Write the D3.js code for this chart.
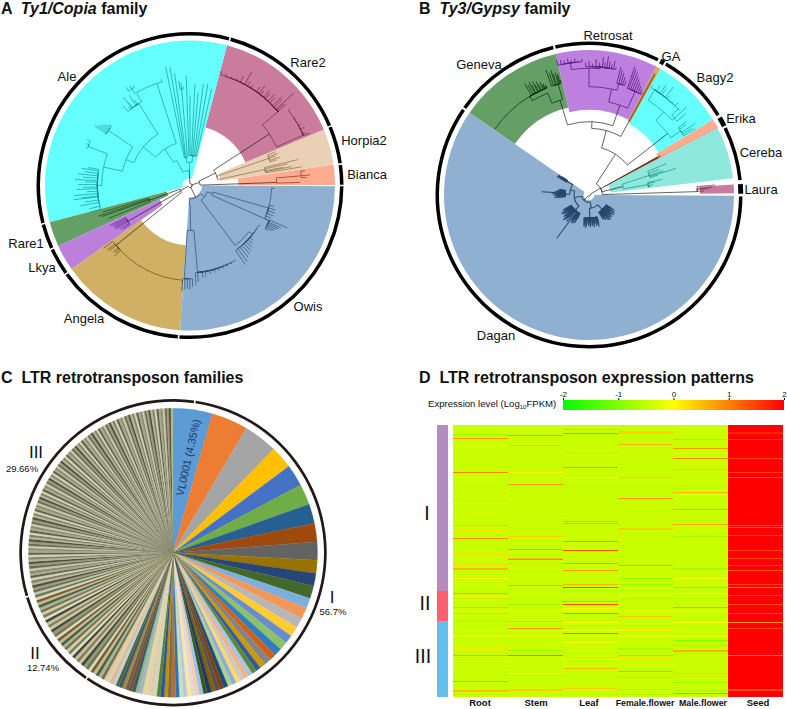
<!DOCTYPE html>
<html><head><meta charset="utf-8">
<script src="https://cdn.jsdelivr.net/npm/d3@7"></script>
<style>html,body{margin:0;background:#fff}svg{display:block}text{font-family:"Liberation Sans",Arial,sans-serif;fill:#111}</style>
</head><body><div id="c"></div>
<script>
// ---------- DATA ----------
// Panel A families: name, start angle, end angle (deg clockwise from north), inner radius (tree units)
const familiesA = ["Bianca","Horpia2","Rare2","Ale","Rare1","Lkya","Angela","Owis"];
const startsA = [81.7,67.3,14.8,-104.7,245.3,234.8,183.9,90.3];
const endsA   = [89.8,81.7,67.3,14.8,255.3,245.3,234.8,183.9];
const innerA  = [145,92,180,22,72,100,180,36];
const ringBreaksA = [15.2,67.1,81.9,90,184.3,234.5,245.4,255.4,375.2];
// Panel B families
const familiesB = ["Laura","Cereba","Brown","Erika","Bagy2","GA","Retrosat","Geneva","Dagan"];
const startsB = [85.8,62.5,60.6,58.6,29.4,27.7,-13.3,-55.5,90.3];
const endsB   = [89.3,83.4,62.4,62.4,58.6,29.4,27.7,-13.3,304.5];
const innerB  = [333,65,50,236,245,250,255,270,16];
const ringSegmentsB = [[90.6,304.2],[305,346.4],[347.2,387],[388,389.6],[390.4,418.3],[419.4,423],[423.8,444.4],[445.9,449.5]];
// Panel C
const valuesI = [4.35,4.03,3.75,2.5,2.39,2.3,2.14,2.05,2.0,1.45,1.39,1.42,1.14,1.22,1.11,1.11,.92,.92,.86,.72,.78,.64,.53,
 .55,.52,.5,.52,.48,.5,.47,.5,.46,.48,.45,.47,.44,.46,.45,.43,.45,.42,.44,.41,.43,.42,.4,.42,.41,.39,.41,.4,.38,.4,.39,.37,.39,.38,.37,.38,.36,.37,.36,.35];
const valuesII = [.36,.34,.35,.33,.34,.33,.32,.33,.32,.34,.31,.33,.32,.31,.32,.3,.32,.31,.3,.31,.32,.3,.31,.3,.32,.3,.31,.29,.31,.3,.29,.31,.3,.29,.3,.31,.29,.3,.29,.3];
const valuesIII = [.28,.27,.28,.26,.27,.26,.27,.25,.26,.27,.25,.26,.25,.26,.24,.25,.26,.24,.25,.24,.25,.26,.24,.25,.24,
 .25,.24,.25,.23,.24,.25,.23,.24,.25,.23,.24,.23,.24,.25,.23,.24,.23,.24,.22,.23,.24,.23,.24,.22,.23,
 .24,.23,.22,.24,.23,.22,.23,.24,.22,.23,.22,.24,.23,.22,.23,.22,.24,.22,.23,.22,.23,.24,.22,.23,.22,
 .23,.22,.24,.23,.22,.23,.22,.23,.24,.22,.23,.22,.23,.22,.24,.22,.23,.22,.23,.22,.23,.24,.22,.23,.22,
 .23,.22,.23,.22,.24,.22,.23,.22,.23,.22,.23,.22,.24,.22,.23,.22,.23,.22,.23,.22,.23,.22,.23,.22,.23];
const paletteI = ["#5b9bd5","#ed7d31","#a5a5a5","#ffc000","#4472c4","#70ad47","#255e91","#9e480e","#636363","#997300","#264478","#43682b","#7cafdd","#f1975a","#b7b7b7","#ffcd33","#698ed0","#8cc168","#327dc2","#d26012","#848484","#cc9a00","#335aa1","#5a8a39","#a3c4e3","#f4b183","#c9c9c9","#ffd966","#8faadc","#a9d18e","#1f4e79","#843c0c","#525252","#7f6000","#203864","#385723","#9dc3e6","#f8cbad","#dbdbdb","#ffe699","#b4c7e7","#c5e0b4","#2e75b6","#b0703a","#7b6b4b","#bf9000","#2f5597","#548235","#c8d8c0","#e8c8a0","#d9d2b8","#e8d890","#a0b8c8","#90b890","#3a5a60","#7a5038","#6a6048","#a08840","#405868","#4a6840","#c0d0d8","#e0b890","#d8d0b0"];
const paletteII = ["#d9c9a0","#7a6a45","#9ab89a","#4e5a3a","#c9b58e","#6e5c3a","#e0d5b0","#5a7a5a","#a88f68","#35503f","#d0c4a0","#8a7a50","#b8c4a8","#4a4030","#e5dcc0","#6a8060"];
const paletteIII = ["#c8c8a8","#6a6a50","#9a9a80","#4e4e3a","#b4b496","#7e7e62","#d2d2b6","#5c5c46","#a6a68a","#8a8a6e"];
const ringBreaksC = [8.2,214.5,253.2,368.2];
// Panel D
const tissues = ["Root","Stem","Leaf","Female.flower","Male.flower","Seed"];
const rowCount = 272;
const baseLevels = [-0.42,-0.42,-0.42,-0.42,-0.42,2];
const hotRoot = [[9,-.7],[13,.8],[20,-.15],[47,1],[52,0],[70,.2],[78,-.1],[100,.4],[105,.2],[113,.9],[129,.3],[139,.3],[143,.6],[144,.5],[153,-.1],[168,.7],[171,.1],[182,-.9],[188,-.8],[196,-.65],[223,.2],[230,.7],[236,-.1],[256,.7],[265,.5],[266,.5]];
const hotStem = [[10,.8],[20,-.8],[47,.1],[59,.8],[111,.4],[124,.8],[133,.5],[134,.9],[138,-.7],[160,.7],[179,-.8],[196,-.8],[203,.8],[225,-.8],[230,1.1],[248,-.1],[264,.4],[265,.4]];
const hotLeaf = [[4,.4],[8,.9],[14,.2],[30,.1],[42,.8],[52,0],[96,.6],[98,.6],[116,.8],[125,1.4],[138,.8],[140,-.05],[145,.8],[159,.6],[162,1.3],[176,.7],[179,1.4],[183,-.05],[188,.9],[197,-.05],[204,-.2],[205,-.2],[208,1.1],[217,-.05],[234,-.05],[243,.5],[263,.4]];
const hotFemale = [[6,.35],[7,.35],[8,.35],[14,.2],[19,.6],[52,.4],[73,.8],[103,.4],[104,.4],[140,.7],[153,-.8],[159,-.8],[170,0],[174,.3],[191,.5],[205,.1],[223,-.8],[230,-1.1],[233,.2],[246,.7],[252,.4],[264,-.7]];
const hotMale = [[14,-.8],[23,.8],[28,-.05],[33,.9],[44,.4],[67,.6],[70,.1],[84,.7],[99,.7],[111,-.8],[143,-.8],[153,-.05],[162,-1.1],[168,-.05],[182,.7],[197,-.05],[215,-1],[220,-.8],[225,.6],[226,.6],[248,-.8],[257,-.8],[265,-.7],[268,.8]];
const hotSeed = [[7,1.7],[8,1.7],[14,1.5],[33,1.5],[47,1.5],[52,1.3],[100,1.3],[102,1.2],[110,1.5],[125,1.5],[133,1.5],[140,1.5],[145,1.3],[159,1.5],[162,.9],[170,1.5],[179,1.3],[188,1.5],[197,.8],[203,1.5],[230,1],[264,1.4],[265,1.4]];
const rowTones = [[34,-.3],[60,-.5],[61,-.5],[88,-.3],[120,-.5],[150,-.3],[165,-.55],[173,-.55],[185,-.3],[186,-.3],[200,-.55],[210,-.25],[211,-.25],[228,-.55],[240,-.3],[250,-.55],[258,-.3],[269,-.55]];
const legendTicks = [-2,-1,0,1,2];
// Trees: node = [radius, angle|null, ...children]; leaf = [radius, angle]
const treeBianca = [260,88,[335,85,[348,82.6],[361,85],[350,86]],[330,88.4]];
const treeHorpia = [85,76,[250,71,[277,68.5],[282,70],[272,71],[283,72.5],[270,73.5]],[230,78,[333,76.5],[300,77.5],[285,79],[310,79.5],[339,80.5]]];
const treeRare2 = [284,57,
 [345,50,[356,15.5],[352,18],[350,21],[352,24],[365,26],[387,28.5],[360,30],[356,32],[362,35.4],[375,36.9],[360,38],[373,40],[365,41],[375,42.8],[368,44],[382,46],[378,47],[417,48.4],[372,49],[380,49.8]],
 [372,66,[378,52.6],[376,57],[380,61],[385,63],[376,64.8],[382,65.5],[392,66.4]]];
const treeAle = [45,-3,
 [70,null,[85,-8,[363,-11.6],[360,-9.6],[340,-7.8],[290,-5,[315,-6],[310,-5],[298,-4]]],
          [90,5,[330,-2],[270,0],[305,2.8],[280,5],[307,7.5],[310,10],[297,12.6]]],
 [85,-28,[133,-35,
   [182,-50.5,
     [207,-68,
       [295,-56,[337,-58],[332,-57],[325,-56],[318,-55],[310,-54],[305,-53],[300,-58.5]],
       [265,-78,
         [327,-69,[338,-66],[335,-68],[332,-70]],
         [278,-90,[310,-80],[330,-81],[318,-82.5],[338,-84],[322,-85.5],[345,-87],[315,-88],[335,-89.5],[320,-91],[340,-92],[310,-93.5],[348,-95],[328,-96.5],[353,-97],[318,-99],[335,-100.5],[310,-103],[308,-105]]]],
     [290,-32,[318,-30],[327,-34],[332,-37],[312,-40],[306,-33],[310,-36.5],[300,-38]]],
   [322,-18,[330,-15],[338,-31,[352,-33],[349,-31],[345,-29.5]]]]]];
const treeOwis = [40,null,
 [60,182,[135,null,
    [280,183.5,[318,184.5],[312,183],[310,181.5],[312,180],[305,178.5]],
    [262,175,[300,176.5],[290,175],[280,172],[278,170],[272,167],[272,164],[270,161],[268,158],[268,155],[267,152],[266,149]]]],
 [55,128,
    [72,null,
      [245,106,[253,92],[260,104],[266,106],[268,108],[265,110],[262,112],[258,114]],
      [260,114,[318,113.5],[300,115],[295,116],[290,117],[285,118],[280,119],[270,120]]],
    [225,143,[238,128,[243,120],[241,123],[240,126],[242,129],[250,131],[255,133],[262,135],[268,137],[272,139],[278,141],[285,143],[290,145]]]]];
const treeAngela = [285,231,[320,234],[315,232],[310,231],[305,229],[300,228],[310,227],[296,184.5]];
const treeLkya = [215,240,[268,243.5],[262,242.5],[258,241.5],[262,240.5],[255,239.5],[248,238],[240,237]];
const treeRare1 = [130,250,[275,253],[290,251.5],[280,250.5],[262,248]];
const rootA = [6,null,
 treeAle,
 [30,72,[85,64,treeRare2,treeHorpia],treeBianca],
 treeOwis,
 [32,243,treeAngela,treeLkya,treeRare1]];
const treeDagan = [22,225,
 [40,170,
  [60,138,[78,120],[90,121],[84,122],[74,123],[72,124],[94,125],[88,126],[80,127],[76,128],[96,129],[92,130],[84,131],[80,132],[90,133],[95,134],[78,135],[74,136],[92,137],[98,138],[86,139],[82,140],[96,141],[94,142],[80,143],[76,144],[88,145],[90,146],[78,147],[72,148],[86,149],[84,150]],
  [70,178,[84,160],[92,161],[100,162],[88,163],[78,164],[96,165],[92,166],[82,167],[74,168],[90,169],[98,170],[86,171],[82,172],[94,173],[90,174],[80,175],[76,176],[96,177],[95,178],[84,179],[80,180],[92,181],[88,182],[78,183],[74,184],[94,185],[100,186],[86,187],[82,188],[96,189],[92,190],[84,191],[76,192]]],
 [45,260,
  [62,222,[162,216.7],[80,206],[92,207],[96,208],[84,209],[76,210],[98,211],[100,212],[90,213],[84,214],[96,215],[104,220],[88,221],[78,222],[100,223],[92,224],[104,225],[108,226],[94,227],[82,228],[100,229],[96,230],[84,231],[76,232],[94,233],[90,234],[98,235],[100,236],[86,237],[80,238],[92,239],[88,240]],
  [58,285,
   [72,272,[104,266],[96,266.5],[92,267],[142,274],[100,268],[94,268.5],[86,269],[102,269.5],[108,270],[90,270.5],[82,271],[100,271.5],[96,272],[106,272.5],[112,273],[92,274.5],[88,275],[104,275.5],[100,276],[90,276.5],[84,277],[98,277.5],[94,278],[86,278.5],[80,279],[92,280],[90,281]],
   [78,302,[112,300],[104,300.5],[100,301],[108,301.5],[106,302],[94,302.5],[110,303],[90,303.5],[98,304]]]]];
const treeGeneva = [297,-17,
 [330,-22,[345,-31,[386,-30],[378,-29],[384,-28],[372,-27.5],[380,-26.5],[368,-26],[376,-25],[365,-24.5],[370,-23.5],[358,-23],[362,-22.5],[352,-22],[356,-21.5],[348,-21.3],[345,-55]]],
 [345,-15.5,[397,-19],[385,-18],[392,-17],[378,-16.5],[382,-15.5],[370,-15],[375,-14.5],[356,-14]]];
const treeRetrosat = [285,19,
 [325,12,[380,0,
     [400,-8,[418,-13.5],[414,-12],[410,-10.5],[414,-9],[408,-7.5],[412,-6],[404,-4.5],[408,-3]],
     [385,5,[398,-1.5],[402,0],[394,1.5],[408,3],[398,4.5],[416,6],[402,7],[420,8],[406,9],[398,10],[410,11],[392,12]]],
   [345,15,[395,14],[388,15],[380,16],[370,17],[360,18]]],
 [340,24,[409,19.7],[402,20.5],[395,21.5],[385,22.5],[378,23.5],[370,24.5],[362,25.5],[355,26.5],[348,27.5]]];
const treeGA = [250,28.5,[415,28.3],[412,28.8]];
const treeBagy = [300,52,
 [335,42,[372,32,[380,30],[392,33],[404,35],[395,36],[412,38],[385,39],[378,42],[385,44],[375,47]],[345,48,[375,46],[395,48],[380,50]]],
 [335,55,[367,53],[360,54],[385,56],[367,57],[375,58]]];
const treeErika = [240,61.3,[243,61],[245,61.6]];
const treeCereba = [105,76,[190,72,[250,68],[225,70],[235,72],[273,73],[215,74]],[180,80,[225,78],[200,79],[195,81],[185,82],[180,83]]];
const treeLaura = [325,88.2,[380,85.5],[370,86.5],[358,87],[345,88]];
const rootB = [4,null,
 [40,59,
  [55,33,[146,33,
    [200,15,
      [220,2.3,treeGeneva,treeRetrosat],
      treeGA],
    treeBagy]],
  treeErika,treeCereba,treeLaura],
 treeDagan];

// ---------- STYLE ----------
const colorsA = ["#ffab8f","#ead1b5","#c97c9b","#66ffff","#649f65","#bd7fdc","#cfb064","#8fb0d0"];
const colorsB = ["#c97c9b","#8ee8dc","#a85a38","#ffab8f","#66ffff","#dba94e","#be80de","#659f66","#8fb0d0"];
const treeInk = new Map([[treeBianca,"#7a2e1e"],[treeHorpia,"#80683c"],[treeRare2,"#6e1f45"],[treeAle,"#14908f"],[treeOwis,"#27496e"],[treeAngela,"#5e4710"],[treeLkya,"#5d1f85"],[treeRare1,"#12401a"],
 [treeDagan,"#27496e"],[treeGeneva,"#0d3a14"],[treeRetrosat,"#5a1a80"],[treeGA,"#6b3d10"],[treeBagy,"#14908f"],[treeErika,"#7a2e1e"],[treeCereba,"#148a78"],[treeLaura,"#6e1f45"]]);
const treeWeight = new Map([[treeDagan,1.05],[treeGeneva,.8],[treeRetrosat,.8]]);

const W=787,H=709;
const svg=d3.select("#c").append("svg").attr("width",W).attr("height",H).attr("viewBox",[0,0,W,H]);
const defs=svg.append("defs");
defs.append("filter").attr("id","soft").attr("x","-2%").attr("y","-2%").attr("width","104%").attr("height","104%")
    .append("feGaussianBlur").attr("stdDeviation",0.45);
const ang=d3.scaleLinear([0,360],[0,2*Math.PI]);
const rad=d3.scaleLinear([0,435],[0,145]);
const arc=d3.arc();

function wedges(g,names,s,e,inner,cols){
  g.selectAll("path.w").data(names).join("path").attr("class","w").attr("fill",(d,i)=>cols[i])
   .attr("d",(d,i)=>arc({innerRadius:rad(inner[i]),outerRadius:rad(435),startAngle:ang(s[i]),endAngle:ang(e[i])}));
}
function ring(g,segs,r0,r1,fill,thick){
  g.selectAll("path.r").data(segs).join("path").attr("class","r").attr("fill",fill)
   .attr("d",d=>{const w=thick&&(d[1]-d[0]<6)?thick:0;return arc({innerRadius:r0-w,outerRadius:r1+w,startAngle:ang(d[0]),endAngle:ang(d[1])});});
}
function tree(g,root){
  const h=d3.hierarchy(root,d=>d.length>2?d.slice(2):null);
  h.eachAfter(n=>{const d=n.data;n.a=(d[1]!=null)?d[1]:(n.children[0].a+n.children[n.children.length-1].a)/2;n.r=d[0];});
  h.ink="#111";h.w=.65;
  h.eachBefore(n=>{ if(n.parent){
    n.ink=treeInk.has(n.parent.data)?treeInk.get(n.parent.data):n.parent.ink;
    n.w=treeWeight.has(n.parent.data)?treeWeight.get(n.parent.data):n.parent.w;} });
  g.selectAll("path.b").data(h.descendants().filter(n=>n.parent)).join("path").attr("class","b")
   .attr("fill","none").attr("stroke",n=>n.ink).attr("stroke-width",n=>n.w)
   .attr("d",n=>{
     const p=d3.path(),pr=rad(n.parent.r),t0=ang(n.parent.a)-Math.PI/2,t1=ang(n.a)-Math.PI/2,nr=rad(n.r);
     p.moveTo(pr*Math.cos(t0),pr*Math.sin(t0));
     p.arc(0,0,pr,t0,t1,t1<t0);
     p.lineTo(nr*Math.cos(t1),nr*Math.sin(t1));
     return p.toString();});
}
function labels(rows){
  svg.append("g").selectAll("text").data(rows).join("text").attr("x",d=>d[1]).attr("y",d=>d[2])
   .attr("text-anchor","middle").attr("font-size",d=>d[3]).text(d=>d[0]);
}
function title(x,y,parts){
  const t=svg.append("text").attr("x",x).attr("y",y).attr("font-size",16).attr("font-weight","bold").style("white-space","pre");
  parts.forEach(p=>t.append("tspan").attr("font-style",p[1]?"italic":"normal").text(p[0]));
}

// Panel A
const gA=svg.append("g").attr("transform","translate(190,185.5)");
wedges(gA,familiesA,startsA,endsA,innerA,colorsA);
tree(gA,rootA);
ring(gA,d3.pairs(ringBreaksA).map(([a,b])=>[a+.3,b-.3]),150,153.5,"#000");
title(1,13.5,[["A  ",0],["Ty1/Copia",1],[" family",0]]);
labels([["Ale",67,81,13],["Rare2",308,67,13],["Horpia2",364,145,13],["Bianca",367,179,13],["Rare1",26,248,13],["Lkya",42,272,13],["Angela",84,323,13],["Owis",308,311,13]]);

// Panel B
const gB=svg.append("g").attr("transform","translate(589,195)");
wedges(gB,familiesB,startsB,endsB,innerB,colorsB);
tree(gB,rootB);
ring(gB,ringSegmentsB,150,153.5,"#000",.7);
title(419,13.5,[["B  ",0],["Ty3/Gypsy",1],[" family",0]]);
labels([["Geneva",479,69,13],["Retrosat",608,40,13],["GA",671,61,13],["Bagy2",715,82,13],["Erika",741,123,13],["Cereba",761,157,13],["Laura",761,194,13],["Dagan",496,340,13]]);

// Panel C
const gC=svg.append("g").attr("transform","translate(173,552.7)");
const allPie=valuesI.concat(valuesII,valuesIII);
const pieC=d3.pie().sort(null).value(d=>d)(allPie);
const nI=valuesI.length,nII=valuesII.length;
const colourOf=i=>i<nI?paletteI[i]:(i<nI+nII?paletteII[(i-nI)%paletteII.length]:paletteIII[(i-nI-nII)%paletteIII.length]);
gC.append("g").attr("filter","url(#soft)").selectAll("path").data(pieC).join("path")
  .attr("fill",d=>colourOf(d.index)).attr("stroke",d=>colourOf(d.index)).attr("stroke-width",.25)
  .attr("d",d3.arc().innerRadius(0).outerRadius(144.5));
ring(gC,d3.pairs(ringBreaksC).map(([a,b])=>[a+.3,b-.3]),151,153.7,"#231815");
gC.append("text").attr("transform","translate(16,-95) rotate(-77.5)").attr("text-anchor","middle").attr("dominant-baseline","middle").attr("font-size",10.8).style("fill","#1c3a5a").text("VL0001 (4.35%)");
title(1,383,[["C  LTR retrotransposon families",0]]);
labels([["III",36,458,17],["29.66%",22,472,9.5],["II",35,659,17],["12.74%",43,671,9.5],["I",332,603,17],["56.7%",333,615,9.5]]);

// Panel D
title(419,383,[["D  LTR retrotransposon expression patterns",0]]);
const heat=d3.scaleLinear().domain([-2,0,2]).range(["#00ff00","#ffff00","#ff0000"]);
const rows=d3.range(rowCount);
const xH=d3.scaleBand(tissues,[453,783]);
const yH=d3.scaleBand(rows,[425,697]);
const sparse=[hotRoot,hotStem,hotLeaf,hotFemale,hotMale,hotSeed].map(a=>new Map(a));
const tones=new Map(rowTones);
const cells=[];
tissues.forEach((t,c)=>rows.forEach(r=>{
  const v=sparse[c].has(r)?sparse[c].get(r):(c<5&&tones.has(r)?tones.get(r):baseLevels[c]);
  cells.push({t,r,v});
}));
svg.append("clipPath").attr("id","hc").append("rect").attr("x",453).attr("y",425).attr("width",330).attr("height",272);
svg.append("g").attr("clip-path","url(#hc)").append("g").attr("filter","url(#soft)").attr("shape-rendering","crispEdges").selectAll("rect").data(cells).join("rect")
  .attr("x",d=>xH(d.t)).attr("y",d=>yH(d.r)).attr("width",xH.bandwidth()+.5).attr("height",yH.bandwidth()+.2)
  .attr("fill",d=>heat(d.v));
// side bar
const sideGroups=[["I",166],["II",30],["III",76]];
const sideCols=["#b58bc0","#ff6070","#62c0ee"];
const ySide=d3.scaleLinear([0,272],[425,697]);
let acc=0;
sideGroups.forEach((g,i)=>{svg.append("rect").attr("x",437).attr("width",11).attr("y",ySide(acc)).attr("height",ySide(acc+g[1])-ySide(acc)).attr("fill",sideCols[i]);acc+=g[1];});
labels([["I",427,520,19.5],["II",425,610,19.5],["III",423,663,19.5]]);
// legend
const xL=d3.scaleLinear([-2,2],[563,784]);
const lg=defs.append("linearGradient").attr("id","lg");
legendTicks.forEach(v=>lg.append("stop").attr("offset",(v+2)/4).attr("stop-color",heat(v)));
svg.append("rect").attr("x",563).attr("y",400).attr("width",221).attr("height",10).attr("fill","url(#lg)");
const axL=svg.append("g").attr("transform","translate(0,400)").call(d3.axisTop(xL).tickValues(legendTicks).tickSize(2).tickPadding(1).tickFormat(d=>String(d)));
axL.select(".domain").remove();
axL.selectAll("text").attr("font-size",8).style("font-family",'"Liberation Sans",Arial,sans-serif');
const ex=svg.append("text").attr("x",428).attr("y",406.5).attr("font-size",9.6);
ex.append("tspan").text("Expression level (Log");
ex.append("tspan").attr("font-size",6).attr("dy",2).text("10");
ex.append("tspan").attr("dy",-2).text("FPKM)");
// column labels
svg.append("g").selectAll("text").data(tissues).join("text").attr("font-weight","bold")
  .attr("font-size",d=>d.includes("flower")?8.8:9.5).attr("text-anchor","middle").attr("y",706)
  .attr("x",d=>({Root:480,Stem:536,Leaf:589,"Female.flower":645,"Male.flower":703,Seed:758})[d]).text(d=>d);
</script></body></html>
